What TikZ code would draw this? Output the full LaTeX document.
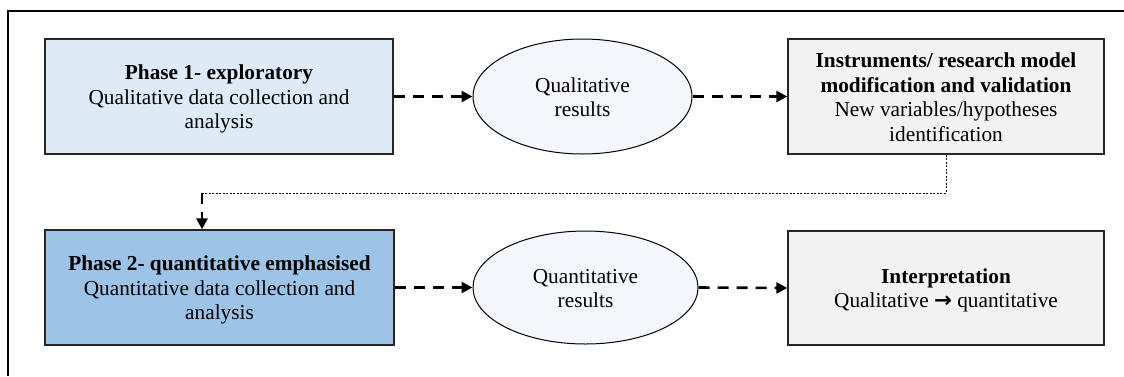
\documentclass[tikz,border=0pt]{standalone}
\usepackage{fontspec}
\setmainfont{Liberation Serif}
\newfontfamily\arrowfont{DejaVu Sans}
\usetikzlibrary{arrows.meta,shapes.geometric}
\definecolor{bluelight}{HTML}{DEEAF6}
\definecolor{bluemid}{HTML}{9DC3E6}
\definecolor{graybox}{HTML}{F2F2F2}
\definecolor{ellfill}{HTML}{F3F7FB}
\definecolor{edge}{HTML}{262626}
\newcommand\mytop{\rule{0pt}{20pt}}
\newcommand\mybot{\rule[-4pt]{0pt}{0pt}}
\tikzset{
  txt/.style={font=\fontsize{21.3}{24.5}\selectfont, align=center, text=black},
  boxnode/.style={txt, draw=edge, line width=1.4pt, rectangle, inner sep=0pt},
  ellnode/.style={txt, draw=black, line width=1pt, ellipse, fill=ellfill, inner sep=0pt},
  flow/.style={line width=2.6pt, dash pattern=on 11pt off 8pt, -{Triangle[length=11pt,width=11pt]}, shorten >=0pt},
  thinlink/.style={line width=0.9pt, dash pattern=on 2pt off 1.5pt}
}
\begin{document}
\begin{tikzpicture}[x=1pt,y=-1pt]
\useasboundingbox (0,0) rectangle (1124,376);
\fill[white] (0,0) rectangle (1124,376);
\draw[line width=1.6pt, black] (8,376) -- (8,11) -- (1124,11);

\node[boxnode, fill=bluelight, minimum width=348pt, minimum height=115pt] (p1) at (219,96.5)
  {\mytop\textbf{Phase 1- exploratory}\\Qualitative data collection and\\analysis\mybot};
\node[ellnode, minimum width=219pt, minimum height=115pt] (e1) at (582.5,96.5)
  {\mytop Qualitative\\results\mybot};
\node[boxnode, fill=graybox, minimum width=316pt, minimum height=115pt] (m1) at (946,96.5)
  {\mytop\textbf{Instruments/ research model}\\\textbf{modification and validation}\\New variables/hypotheses\\identification\mybot};

\node[boxnode, fill=bluemid, minimum width=349pt, minimum height=115pt] (p2) at (219.5,287.5)
  {\mytop\textbf{Phase 2- quantitative emphasised}\\Quantitative data collection and\\analysis\mybot};
\node[ellnode, minimum width=225pt, minimum height=113pt] (e2) at (585.5,287.5)
  {\mytop Quantitative\\results\mybot};
\node[boxnode, fill=graybox, minimum width=316pt, minimum height=114pt] (m2) at (946,288)
  {\mytop\textbf{Interpretation}\\Qualitative {\arrowfont\bfseries →} quantitative\mybot};

\draw[flow] (p1.east) -- (e1.west);
\draw[flow] (e1.east) -- (m1.west);
\draw[flow] (p2.east) -- (e2.west);
\draw[flow] (e2.east) -- (m2.west);

\coordinate (k) at (202,193);
\draw[thinlink] (m1.south) |- (k);
\draw[line width=2.6pt, dash pattern=on 11pt off 8pt, -{Triangle[length=11pt,width=11pt]}] (k) -- (k |- p2.north);
\end{tikzpicture}
\end{document}
